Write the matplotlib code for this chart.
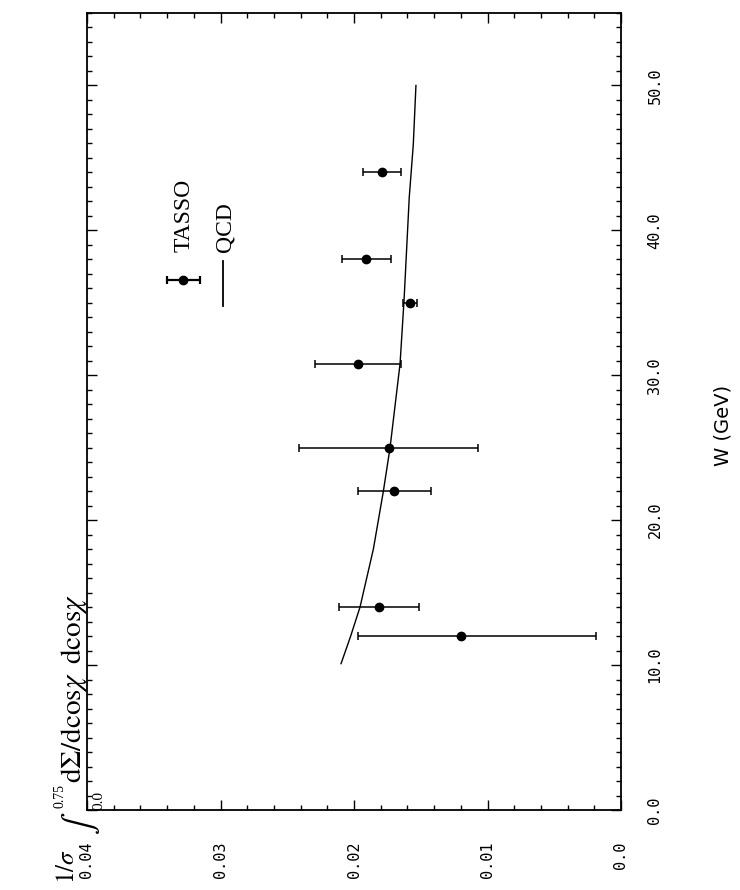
#!/usr/bin/env python3
"""
TASSO energy-energy correlation integral vs W, drawn rotated (page turned 90 deg).
"""
import matplotlib
matplotlib.use("Agg")
import matplotlib.pyplot as plt
from matplotlib.ticker import MultipleLocator

# ---------- data ------------------------------------------------------------
W_tasso  = [12.0, 14.0, 22.0, 25.0, 30.8, 35.0, 38.0, 44.0]
val      = [0.0120, 0.0181, 0.0170, 0.0174, 0.0197, 0.0158, 0.0191, 0.0179]
err_lo   = [0.0101, 0.0030, 0.0028, 0.0067, 0.0032, 0.0005, 0.0019, 0.0014]
err_hi   = [0.0077, 0.0030, 0.0027, 0.0067, 0.0032, 0.0005, 0.0018, 0.0014]

W_qcd    = [10.1, 12.0, 14.0, 18.0, 22.0, 25.0, 30.8, 35.2, 42.3, 45.9, 50.0]
val_qcd  = [0.02097, 0.02025, 0.01955, 0.01855, 0.0178, 0.0173, 0.01655,
            0.01625, 0.01586, 0.01556, 0.01536]

sig_ticks  = [0.04, 0.03, 0.02, 0.01, 0.0]
sig_labels = ["0.04", "0.03", "0.02", "0.01", "0.0"]
w_ticks    = [0, 10, 20, 30, 40, 50]
w_labels   = ["0.0", "10.0", "20.0", "30.0", "40.0", "50.0"]

# ---------- drawing ---------------------------------------------------------
plt.rcParams.update({"font.family": "DejaVu Sans Mono",
                     "mathtext.fontset": "stix",
                     "axes.linewidth": 1.3})

fig = plt.figure(figsize=(7.4, 8.9), dpi=100)
ax = fig.add_axes([87/740, 1-810/890, (621-87)/740, (810-13)/890])

ax.plot(val_qcd, W_qcd, color="black", lw=1.0)
ax.errorbar(val, W_tasso, xerr=[err_lo, err_hi], fmt="o", color="black",
            ms=6, lw=1.1, capsize=3.2, capthick=1.1)

ax.set_xlim(0.04, 0.0)
ax.set_ylim(0, 55)
ax.set_xticks(sig_ticks)
ax.set_xticklabels(sig_labels)
ax.set_yticks(w_ticks)
ax.set_yticklabels(w_labels)
ax.xaxis.set_minor_locator(MultipleLocator(0.002))
ax.yaxis.set_minor_locator(MultipleLocator(1))

ax.tick_params(which="both", direction="in", top=True, bottom=True,
               left=True, right=True, labelleft=False, labelright=True,
               width=1.0)
ax.tick_params(which="major", length=7)
ax.tick_params(which="minor", length=3.5)
ax.tick_params(axis="x", labelsize=11, labelrotation=90, pad=23)
ax.tick_params(axis="y", labelsize=11, labelrotation=90, pad=19)
for t in ax.get_yticklabels():
    t.set_va("center")

# legend drawn by hand (rotated page)
ax.errorbar([0.0328], [36.6], xerr=[[0.0013], [0.0012]], fmt="o",
            color="black", ms=6, lw=1.6, capsize=3.2, capthick=1.6,
            clip_on=False)
ax.plot([0.0298, 0.0298], [34.8, 37.9], color="black", lw=1.3)
ax.text(0.0327, 38.5, "TASSO", rotation=90, ha="center", va="bottom",
        family="Liberation Serif", fontsize=17)
ax.text(0.0297, 38.5, "QCD", rotation=90, ha="center", va="bottom",
        family="Liberation Serif", fontsize=17)

# axis titles
fig.text(723/740, 1-425/890, "W (GeV)", rotation=90, ha="center",
         va="center", family="DejaVu Sans", fontsize=14)

# y title, built piece by piece so the integral sign can be big
def px(x, y):
    return x / 740, 1 - y / 890

fig.text(*px(67, 884), r"$1/\sigma$", rotation=90, ha="center",
         va="bottom", fontsize=18)
fig.text(*px(80, 823), r"$\int$", rotation=90, ha="center",
         va="center", fontsize=24)
fig.text(*px(60, 796), "0.75", rotation=90, ha="center", va="center",
         family="Liberation Serif", fontsize=10)
fig.text(*px(99, 800), "0.0", rotation=90, ha="center", va="center",
         family="Liberation Serif", fontsize=11)
fig.text(*px(74, 783), r"$\mathrm{d}\Sigma/\mathrm{dcos}\chi\;\;\mathrm{dcos}\chi$",
         rotation=90, ha="center", va="bottom", fontsize=21)

fig.savefig("out.png", dpi=100)
print("wrote out.png")
